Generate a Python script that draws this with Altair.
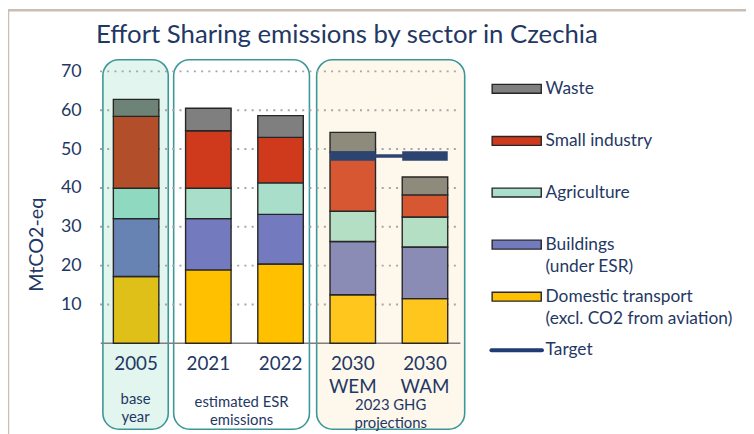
import altair as alt
import pandas as pd

# ---------------- data ----------------
title_text = "Effort Sharing emissions by sector in Czechia"
categories = ["2005", "2021", "2022", "2030\nWEM", "2030\nWAM"]
bar_group = [0, 1, 1, 2, 2]
group_labels = ["base\nyear", "estimated ESR\nemissions", "2023 GHG\nprojections"]

sectors = ["Domestic transport", "Buildings", "Agriculture", "Small industry", "Waste"]
transport = [17.2, 18.9, 20.4, 12.5, 11.5]
buildings = [14.9, 13.2, 12.8, 13.7, 13.3]
agriculture = [7.8, 7.8, 8.1, 7.8, 7.7]
small_industry = [18.5, 14.8, 11.7, 15.2, 5.7]
waste = [4.4, 5.8, 5.6, 5.1, 4.6]
target = [None, None, None, 48.2, 48.2]

legend_labels = ["Waste", "Small industry", "Agriculture", "Buildings\n(under ESR)",
                 "Domestic transport\n(excl. CO2 from aviation)"]
legend_sectors = ["Waste", "Small industry", "Agriculture", "Buildings", "Domestic transport"]

y_ticks = [10, 20, 30, 40, 50, 60, 70]

# ---------------- styles / layout ----------------
NAVY = "#1F3864"
FONT = "Lato"
colors = {
    0: {"Domestic transport": "#DFC018", "Buildings": "#6683B3", "Agriculture": "#90D9C1",
        "Small industry": "#B34E2B", "Waste": "#6E8377"},
    1: {"Domestic transport": "#FFC000", "Buildings": "#737ABD", "Agriculture": "#A9DFCA",
        "Small industry": "#CF3A1C", "Waste": "#7F7F7F"},
    2: {"Domestic transport": "#FFC61E", "Buildings": "#8B8CB6", "Agriculture": "#B5DFC4",
        "Small industry": "#D75733", "Waste": "#8E8B7C"},
}
box_fill = ["#E2F5EE", "#FFFFFF", "#FDF7EC"]
BAR_HALF = 0.315

box_x = [(0.04, 0.945), (1.02, 2.90), (3.00, 5.05)]
box_y = (-22.1, 73.0)
cat_label_y = -3.0
grp_label_y = [-12.6, -13.3, -14.1]
leg_x0, leg_x1, leg_tx = 5.43, 6.11, 6.17
leg_y = [65.5, 52.1, 38.8, 25.4, 12.0]
leg_target_y = -1.8

# ---------------- tables ----------------
series = [transport, buildings, agriculture, small_industry, waste]
rows = []
for i, cat in enumerate(categories):
    base = 0.0
    for s, vals in zip(sectors, series):
        v = vals[i]
        rows.append({"cat": cat, "sector": s, "y0": base, "y1": base + v,
                     "x0": i + 0.5 - BAR_HALF, "x1": i + 0.5 + BAR_HALF,
                     "color": colors[bar_group[i]][s]})
        base += v
bars_df = pd.DataFrame(rows)

cat_df = pd.DataFrame({"cat": categories,
                       "xc": [i + 0.5 for i in range(len(categories))],
                       "yl": [cat_label_y] * len(categories)})

boxes_df = pd.DataFrame({
    "label": group_labels,
    "x0": [b[0] for b in box_x], "x1": [b[1] for b in box_x],
    "y0": [box_y[0]] * 3, "y1": [box_y[1]] * 3,
    "fill": box_fill,
    "xc": [(b[0] + b[1]) / 2 for b in box_x],
    "yl": grp_label_y,
})

tgt_rows = [{"x0": i + 0.5 - BAR_HALF, "x1": i + 0.5 + BAR_HALF, "xc": i + 0.5, "t": t}
            for i, t in enumerate(target) if t is not None]
tgt_df = pd.DataFrame(tgt_rows)
tgt_conn = pd.DataFrame({"x0": [tgt_df.xc.min()], "x1": [tgt_df.xc.max()], "t": [tgt_df.t.mean()]})

grid_df = pd.DataFrame({"v": y_ticks, "x0": [0] * len(y_ticks), "x1": [5] * len(y_ticks)})
zero_df = pd.DataFrame({"v": [0], "x0": [0.01], "x1": [4.99]})

leg_df = pd.DataFrame({
    "label": legend_labels,
    "y": leg_y,
    "color": [colors[1][s] for s in legend_sectors],
})
leg_df["y0"] = leg_df["y"] - 1.15
leg_df["y1"] = leg_df["y"] + 1.15
leg_df["yt"] = leg_df["y"] + 2.2
leg_df["lx0"] = leg_x0
leg_df["lx1"] = leg_x1
leg_df["lx"] = leg_tx

leg_tgt_df = pd.DataFrame({"label": ["Target"], "y": [leg_target_y],
                           "lx0": [leg_x0 - 0.01], "lx1": [leg_x1 + 0.01], "lx": [leg_tx]})

# ---------------- scales / axis ----------------
xs = alt.Scale(domain=[0, 5], nice=False, zero=False)
ys = alt.Scale(domain=[-22.5, 73.5], nice=False, zero=False)
yaxis = alt.Axis(
    values=y_ticks, grid=False, domain=False, ticks=False,
    labelFont=FONT, labelFontSize=18, labelColor=NAVY, labelPadding=19,
    title="MtCO2-eq", titleFont=FONT, titleFontSize=20, titleColor=NAVY,
    titleFontWeight="normal", titlePadding=14)


def X(f):
    return alt.X(f, type="quantitative", scale=xs, axis=None)


def Y(f):
    return alt.Y(f, type="quantitative", scale=ys, axis=yaxis)


boxes = alt.Chart(boxes_df).mark_rect(cornerRadius=16, stroke="#3A9898", strokeWidth=1.6).encode(
    x=X("x0"), x2="x1", y=Y("y0"), y2="y1", fill=alt.Fill("fill:N", scale=None))

grid = alt.Chart(grid_df).mark_rule(color="#A6A6A6", strokeWidth=2, strokeDash=[2, 5.3]).encode(
    x=X("x0"), x2="x1", y=Y("v"))

zero = alt.Chart(zero_df).mark_rule(color="#7F7F7F", strokeWidth=1.6).encode(
    x=X("x0"), x2="x1", y=Y("v"))

bars = alt.Chart(bars_df).mark_rect(stroke="#262626", strokeWidth=1.4).encode(
    x=X("x0"), x2="x1", y=Y("y0"), y2="y1", fill=alt.Fill("color:N", scale=None))

tgt_band = alt.Chart(tgt_df).mark_rule(color="#2C4570", strokeWidth=9.6).encode(
    x=X("x0"), x2="x1", y=Y("t"))
tgt_line = alt.Chart(tgt_conn).mark_rule(color="#2C4570", strokeWidth=3.6).encode(
    x=X("x0"), x2="x1", y=Y("t"))

cat_text = alt.Chart(cat_df).mark_text(
    font=FONT, fontSize=19, color=NAVY, baseline="top", align="center",
    lineBreak="\n", lineHeight=23).encode(x=X("xc"), y=Y("yl"), text="cat:N")

grp_text = alt.Chart(boxes_df).mark_text(
    font=FONT, fontSize=15, color=NAVY, baseline="top", align="center",
    lineBreak="\n", lineHeight=18).encode(x=X("xc"), y=Y("yl"), text="label:N")

leg_rect = alt.Chart(leg_df).mark_rect(stroke="#262626", strokeWidth=1.4).encode(
    x=X("lx0"), x2="lx1", y=Y("y0"), y2="y1", fill=alt.Fill("color:N", scale=None))

leg_text = alt.Chart(leg_df).mark_text(
    font=FONT, fontSize=17.5, color=NAVY, baseline="top", align="left",
    lineBreak="\n", lineHeight=22).encode(x=X("lx"), y=Y("yt"), text="label:N")

leg_tgt_line = alt.Chart(leg_tgt_df).mark_rule(color="#1F3C74", strokeWidth=4, strokeCap="round").encode(
    x=X("lx0"), x2="lx1", y=Y("y"))
leg_tgt_text = alt.Chart(leg_tgt_df).mark_text(
    font=FONT, fontSize=17.5, color=NAVY, baseline="middle", align="left").encode(
    x=X("lx"), y=Y("y"), text="label:N")

frame = alt.Chart(pd.DataFrame({"v": [0]})).mark_rect(
    fill=None, stroke="#C8BEB6", strokeWidth=2.5).encode(
    x=alt.value(-93), x2=alt.value(700), y=alt.value(-48), y2=alt.value(700))

title = alt.Chart(pd.DataFrame({"t": [title_text]})).mark_text(
    font=FONT, fontSize=26, color=NAVY, align="left", baseline="middle").encode(
    x=alt.value(-4), y=alt.value(-23), text="t:N")

chart = alt.layer(
    boxes, grid, zero, bars, tgt_band, tgt_line, cat_text, grp_text,
    leg_rect, leg_text, leg_tgt_line, leg_tgt_text, frame, title,
).properties(
    width=365, height=377,
    autosize=alt.AutoSizeParams(type="none"),
    padding={"left": 93, "top": 48, "right": 288, "bottom": 1},
).configure_view(stroke=None)

chart.save("out.html", embed_options={"renderer": "svg", "actions": False})
